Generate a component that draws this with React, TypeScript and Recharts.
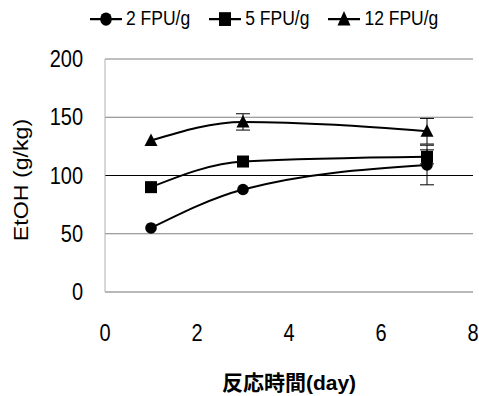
import { LineChart, Line, XAxis, YAxis, CartesianGrid, ErrorBar, ReferenceLine } from 'recharts';

const days = [1, 3, 7];
const fpu2 = [55, 88, 109];
const fpu5 = [90, 112, 116];
const fpu12 = [130, 146, 138];
const err2 = [0, 0, 17];
const err5 = [0, 0, 6];
const err12 = [0, 7, 11];
const seriesNames = ['2 FPU/g', '5 FPU/g', '12 FPU/g'];
const xTicks = [0, 2, 4, 6, 8];
const yTicks = [0, 50, 100, 150, 200];

const data = days.map((d, i) => ({
    day: d,
    a: fpu2[i],
    b: fpu5[i],
    c: fpu12[i],
    ea: err2[i],
    eb: err5[i],
    ec: err12[i],
}));

const font = '"Liberation Sans", Arial, sans-serif';
const cjkFont = '"Liberation Sans", "Noto Sans CJK JP", sans-serif';

const Marker = ({ cx, cy, shape }: { cx?: number; cy?: number; shape: string }) => {
    if (cx == null || cy == null) return null;
    if (shape === 'circle') return <circle cx={cx} cy={cy} r={5.8} fill="#000" />;
    if (shape === 'square') return <rect x={cx - 6} y={cy - 6} width={12} height={12} fill="#000" />;
    return <polygon points={`${cx},${cy - 7} ${cx - 6.5},${cy + 5.5} ${cx + 6.5},${cy + 5.5}`} fill="#000" />;
};

const shapes = ['circle', 'square', 'triangle'];

const LegendIcon = ({ shape }: { shape: string }) => (
    <svg width={32} height={14} style={{ display: 'block' }}>
        <line x1={0} y1={7} x2={32} y2={7} stroke="#000" strokeWidth={2} />
        <Marker cx={16} cy={7} shape={shape} />
    </svg>
);

const XTick = ({ x, y, payload }: any) => (
    <text transform={`translate(${x},${y + 41}) scale(1,1.15)`} textAnchor="middle" fontSize={20} fontFamily={font} fill="#000">
        {payload.value}
    </text>
);

const YTick = ({ x, y, payload }: any) => (
    <text transform={`translate(${x - 14},${y + 8}) scale(1,1.15)`} textAnchor="end" fontSize={20} fontFamily={font} fill="#000">
        {payload.value}
    </text>
);

const App = () => {
    return (
        <div style={{ position: 'absolute', left: 0, top: 0, width: 479, height: 396, background: '#fff' }}>
            <div
                style={{
                    position: 'absolute',
                    left: 90,
                    top: 8,
                    display: 'flex',
                    alignItems: 'center',
                    fontFamily: font,
                    fontSize: 17.5,
                    transform: 'scaleY(1.15)',
                    whiteSpace: 'nowrap',
                }}
            >
                {seriesNames.map((n, i) => (
                    <span key={n} style={{ display: 'inline-flex', alignItems: 'center', marginRight: 19 }}>
                        <LegendIcon shape={shapes[i]} />
                        <span style={{ marginLeft: 4 }}>{n}</span>
                    </span>
                ))}
            </div>
            <LineChart width={479} height={396} data={data} margin={{ top: 59, right: 6, left: 45, bottom: 44 }}>
                <CartesianGrid vertical={false} stroke="#808080" strokeWidth={1} />
                <ReferenceLine y={100} stroke="#000" strokeWidth={1} />
                <XAxis
                    dataKey="day"
                    type="number"
                    domain={[0, 8]}
                    ticks={xTicks}
                    axisLine={{ stroke: '#b0b0b0' }}
                    tickLine={false}
                    tick={<XTick />}
                    height={60}
                    label={{
                        content: () => (
                            <text x={289} y={390} textAnchor="middle" fontSize={21} fontWeight="bold" fontFamily={cjkFont} fill="#000">
                                反応時間(day)
                            </text>
                        ),
                    }}
                />
                <YAxis
                    type="number"
                    domain={[0, 200]}
                    ticks={yTicks}
                    axisLine={{ stroke: '#b0b0b0' }}
                    tickLine={false}
                    tick={<YTick />}
                    width={60}
                    label={{
                        content: () => (
                            <text transform="translate(28,180) rotate(-90) scale(1.16,1)" textAnchor="middle" fontSize={20} fontFamily={font} fill="#000">
                                EtOH (g/kg)
                            </text>
                        ),
                    }}
                />
                <Line dataKey="a" type="monotone" stroke="#000" strokeWidth={2} isAnimationActive={false}
                    dot={(p: any) => <Marker key={p.index} cx={p.cx} cy={p.cy} shape="circle" />}>
                    <ErrorBar dataKey="ea" width={7} stroke="#000" strokeWidth={1} direction="y" />
                </Line>
                <Line dataKey="b" type="monotone" stroke="#000" strokeWidth={2} isAnimationActive={false}
                    dot={(p: any) => <Marker key={p.index} cx={p.cx} cy={p.cy} shape="square" />}>
                    <ErrorBar dataKey="eb" width={7} stroke="#000" strokeWidth={1} direction="y" />
                </Line>
                <Line dataKey="c" type="monotone" stroke="#000" strokeWidth={2} isAnimationActive={false}
                    dot={(p: any) => <Marker key={p.index} cx={p.cx} cy={p.cy} shape="triangle" />}>
                    <ErrorBar dataKey="ec" width={7} stroke="#000" strokeWidth={1} direction="y" />
                </Line>
            </LineChart>
        </div>
    );
};

export default App;
